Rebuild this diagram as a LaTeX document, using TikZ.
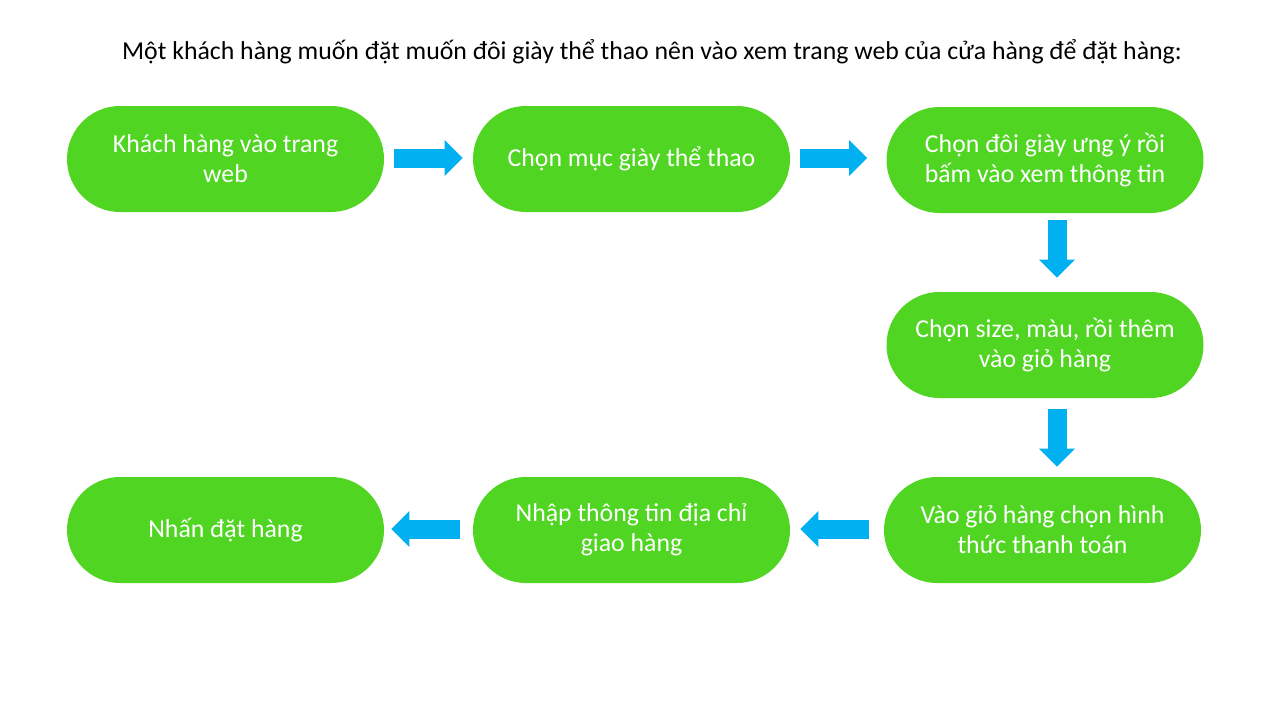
\documentclass[tikz,border=0pt]{standalone}
\usepackage{fontspec}
\setmainfont{Carlito}
\usetikzlibrary{arrows.meta}
\definecolor{boxgreen}{HTML}{50D522}
\definecolor{arrowblue}{HTML}{00B0F0}
\begin{document}
\begin{tikzpicture}[x=0.5pt, y=-0.5pt, font=\fontsize{12.9}{15}\selectfont,
  box/.style={fill=boxgreen,text=white,rounded corners=26.5pt,minimum width=158.5pt,minimum height=53pt,align=center,inner sep=0pt},
  blockarrow/.style={draw=arrowblue,line width=9.5pt,-{Triangle[width=17.5pt,length=9pt]}}]
       \useasboundingbox (0,0) rectangle (1275,712);
       \node (title) at (652,52) {Một khách hàng muốn đặt muốn đôi giày thể thao nên vào xem trang web của cửa hàng để đặt hàng:};

       \node[box] (1) at (225.5,159) {Khách hàng vào trang\\web};
       \node[box] (2) at (631.5,159) {Chọn mục giày thể thao};
       \node[box] (3) at (1045,160) {Chọn đôi giày ưng ý rồi\\bấm vào xem thông tin};
       \node[box] (4) at (1045,345) {Chọn size, màu, rồi thêm\\vào giỏ hàng};
       \node[box] (5) at (1042.5,530) {Vào giỏ hàng chọn hình\\thức thanh toán};
       \node[box] (6) at (631.5,530) {Nhập thông tin địa chỉ\\giao hàng};
       \node[box] (7) at (225.5,530) {Nhấn đặt hàng};

       \draw[blockarrow, shorten <=5pt, shorten >=5pt] ([yshift=0.5pt]1.east) -- ([yshift=0.5pt]1.east -| 2.west);
       \draw[blockarrow, shorten <=5pt, shorten >=9.5pt] ([yshift=0.5pt]2.east) -- ([yshift=0.5pt]2.east -| 3.west);
       \draw[blockarrow, shorten <=3.5pt, shorten >=7pt] ([xshift=6pt]3.south) -- ([xshift=6pt]3.south |- 4.north);
       \draw[blockarrow, shorten <=5.5pt, shorten >=5pt] ([xshift=6pt]4.south) -- ([xshift=6pt]4.south |- 5.north);
       \draw[blockarrow, shorten <=7.5pt, shorten >=5pt] ([yshift=0.5pt]5.west) -- ([yshift=0.5pt]5.west -| 6.east);
       \draw[blockarrow, shorten <=6.5pt, shorten >=3.5pt] ([yshift=0.5pt]6.west) -- ([yshift=0.5pt]6.west -| 7.east);
     \end{tikzpicture}
\end{document}
